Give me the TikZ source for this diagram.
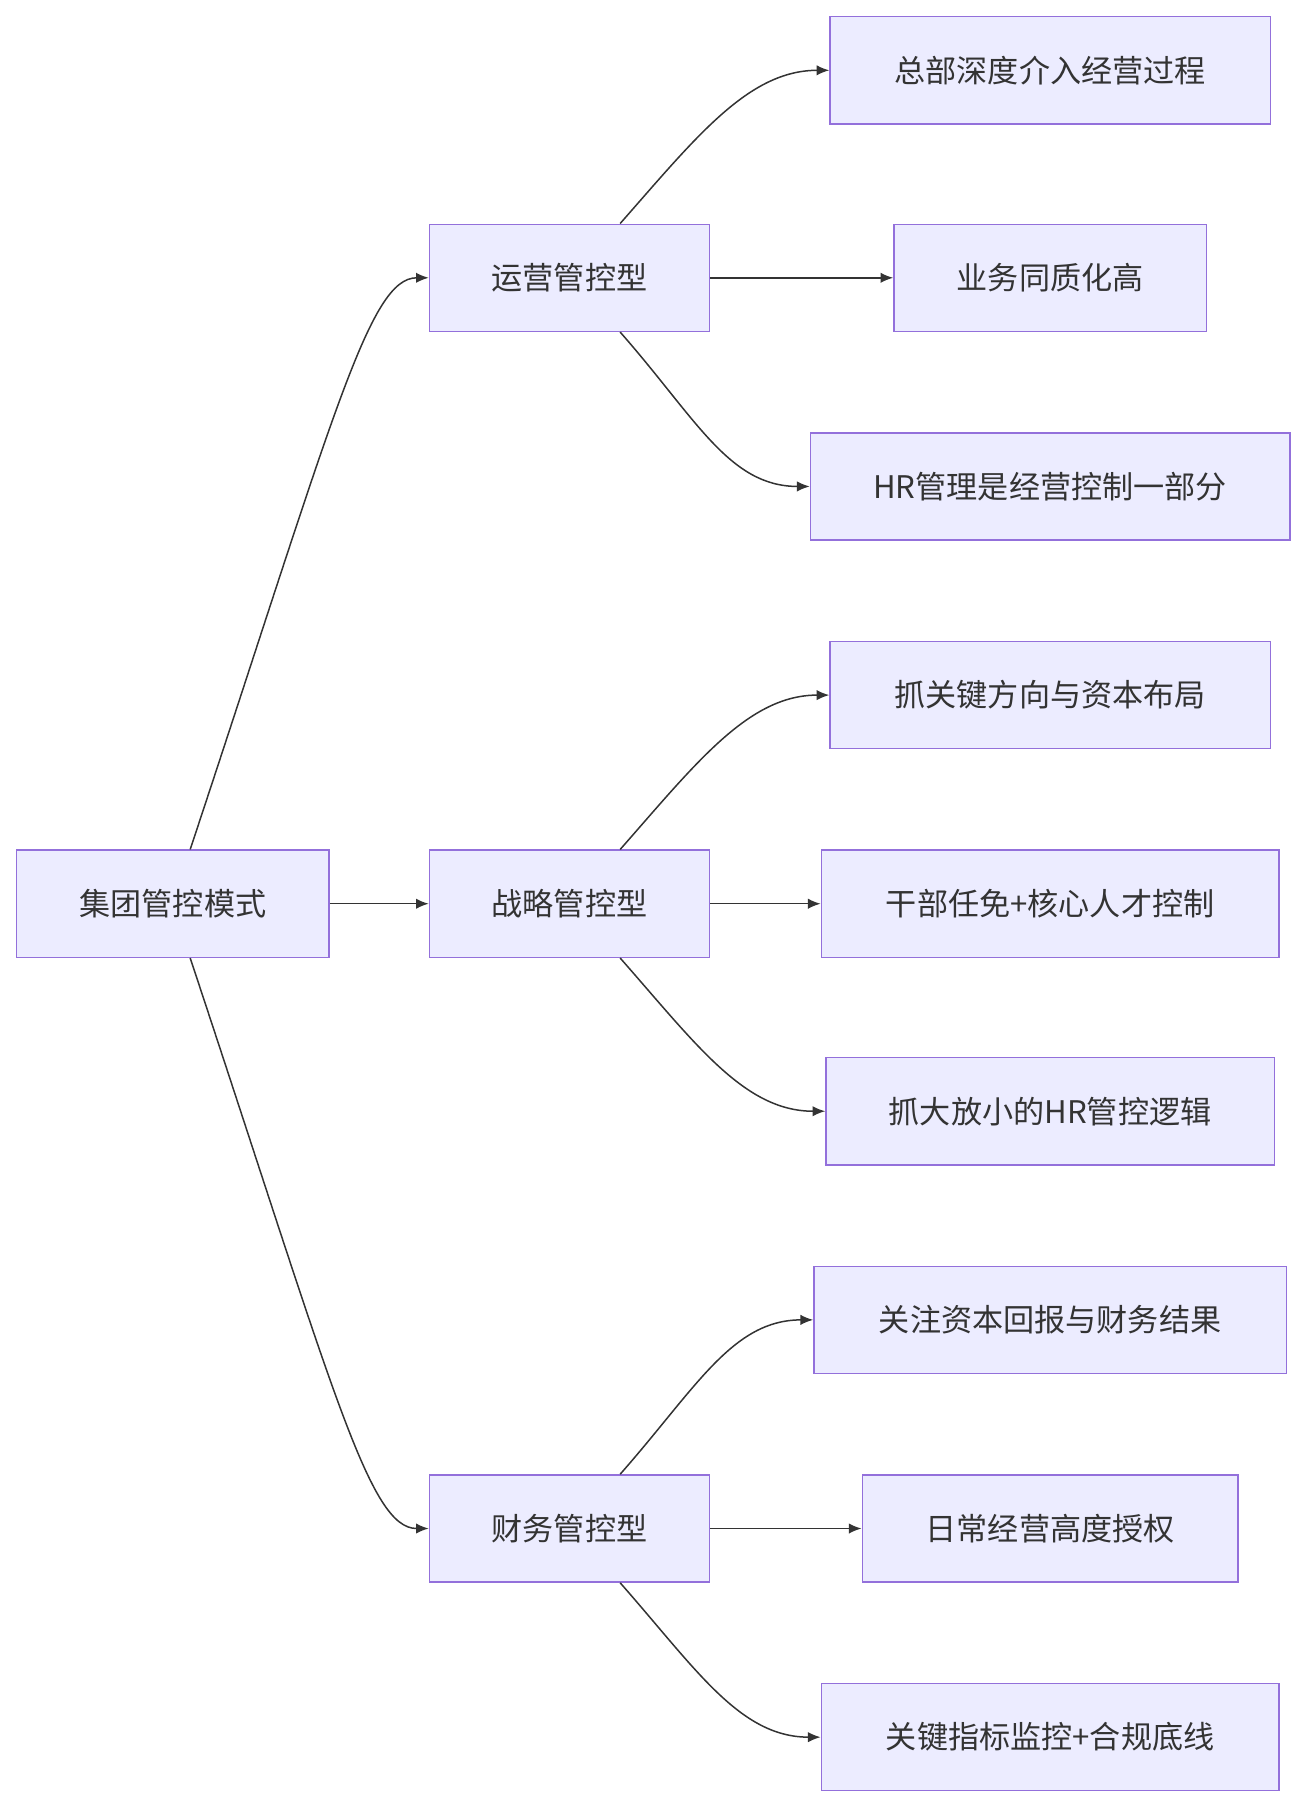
\documentclass[tikz,border=0pt]{standalone}
\usepackage{fontspec}
\setmainfont{Noto Sans CJK SC}
\usetikzlibrary{positioning,calc,arrows.meta}
\definecolor{boxfill}{HTML}{ECECFF}
\definecolor{boxline}{HTML}{9370DB}
\definecolor{edgeline}{HTML}{333333}

\begin{document}
\begin{tikzpicture}[x=1pt,y=-1pt,
  box/.style={draw=boxline, fill=boxfill, line width=1.2pt, minimum height=93pt, inner xsep=0pt, text=edgeline, font=\fontsize{27}{32}\selectfont},
  edge/.style={draw=edgeline, line width=1.3pt, -{Latex[length=11pt,width=9pt]}}]

\useasboundingbox (0,0) rectangle (1130,1565);

% ROOT AND MODES

\node [box, minimum width=271pt] (jituan) at (150,784) {集团管控模式};

\node [box, minimum width=243pt] (yunying) at (494,241) {运营管控型};
\node [box, minimum width=243pt] (zhanlue) at (494,784) {战略管控型};
\node [box, minimum width=243pt] (caiwu) at (494,1326) {财务管控型};

% LEAVES

\node [box, minimum width=382pt] (yy1) at (911,61) {总部深度介入经营过程};
\node [box, minimum width=271pt] (yy2) at (911,241) {业务同质化高};
\node [box, minimum width=416pt] (yy3) at (911,422) {HR管理是经营控制一部分};

\node [box, minimum width=382pt] (zl1) at (911,603) {抓关键方向与资本布局};
\node [box, minimum width=397pt] (zl2) at (911,784) {干部任免+核心人才控制};
\node [box, minimum width=389pt] (zl3) at (911,964) {抓大放小的HR管控逻辑};

\node [box, minimum width=410pt] (cw1) at (911,1145) {关注资本回报与财务结果};
\node [box, minimum width=326pt] (cw2) at (911,1326) {日常经营高度授权};
\node [box, minimum width=397pt] (cw3) at (911,1507) {关键指标监控+合规底线};

% EDGES

\draw [edge] ($(jituan.north)+(15,0)$) .. controls (290,360) and (320,241) .. (yunying.west);
\draw [edge] (jituan.east) -- (zhanlue.west);
\draw [edge] ($(jituan.south)+(15,0)$) .. controls (290,1208) and (320,1326) .. (caiwu.west);

\foreach \mode/\top/\mid/\bot in {yunying/yy1/yy2/yy3, zhanlue/zl1/zl2/zl3, caiwu/cw1/cw2/cw3} {
  \draw [edge] ($(\mode.north)+(44,0)$) .. controls ($(\mode.north)+(110,-75)$) and ($(\top.west)+(-70,0)$) .. (\top.west);
  \draw [edge] (\mode.east) -- (\mid.west);
  \draw [edge] ($(\mode.south)+(44,0)$) .. controls ($(\mode.south)+(110,75)$) and ($(\bot.west)+(-70,0)$) .. (\bot.west);
}

\end{tikzpicture}
\end{document}
